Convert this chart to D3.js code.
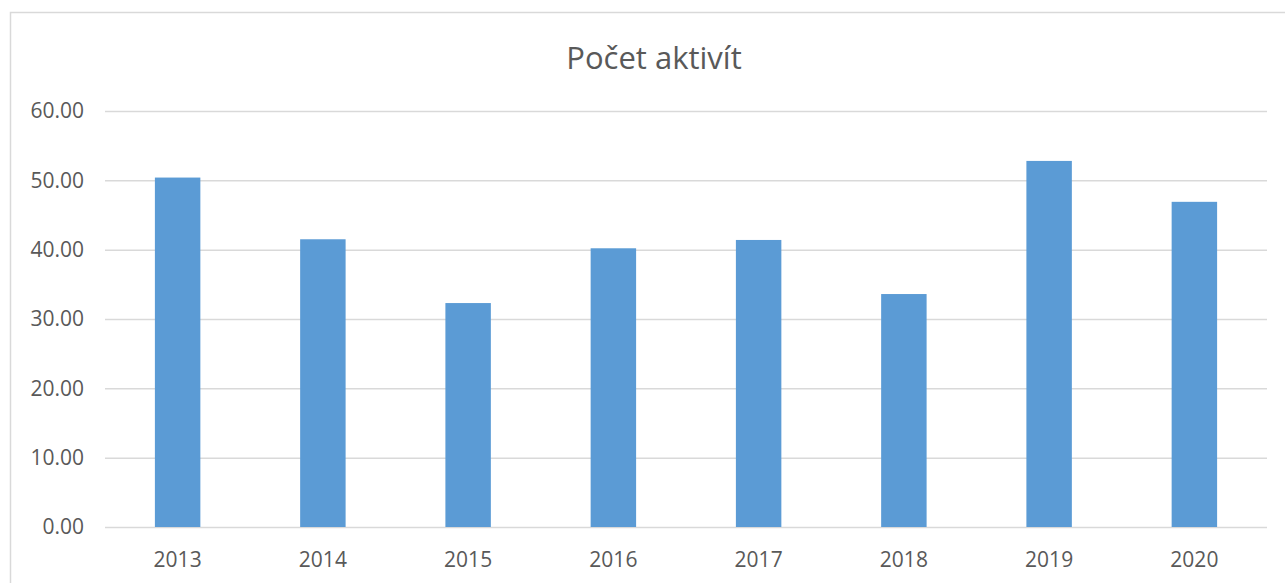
<!DOCTYPE html>
<html>
<head>
<meta charset="utf-8">
<script src="https://cdn.jsdelivr.net/npm/d3@7"></script>
<style>
  body { margin: 0; background: #fff; }
  svg { display: block; font-family: "Open Sans", "Noto Sans", sans-serif; }
</style>
</head>
<body>
<div id="chart"></div>
<script>
// data
const years = ['2013', '2014', '2015', '2016', '2017', '2018', '2019', '2020'];
const values = [50.4, 41.5, 32.3, 40.2, 41.4, 33.6, 52.8, 46.9];
const yTicks = [0, 10, 20, 30, 40, 50, 60];
const title = 'Počet aktivít';

const width = 1285, height = 583;
const margin = { top: 111, right: 18, bottom: 56, left: 105 };

const svg = d3.select('#chart')
    .append('svg')
    .attr('width', width)
    .attr('height', height);

// chart area frame (right and bottom run off the picture)
svg.append('rect')
    .attr('x', 10.5)
    .attr('y', 12.5)
    .attr('width', width + 20)
    .attr('height', height + 20)
    .attr('fill', '#fff')
    .attr('stroke', '#d9d9d9')
    .attr('stroke-width', 1.5);

const x = d3.scaleBand()
    .domain(years)
    .range([margin.left, width - margin.right])
    .paddingInner(0.687)
    .paddingOuter(0.3435);

const y = d3.scaleLinear()
    .domain([0, 60])
    .range([height - margin.bottom, margin.top]);

// gridlines
svg.append('g')
    .attr('transform', 'translate(' + margin.left + ',0)')
    .call(d3.axisLeft(y).tickValues(yTicks).tickSize(-(width - margin.right - margin.left)).tickFormat(''))
    .call(g => g.select('.domain').remove())
    .call(g => g.selectAll('.tick line').attr('stroke', '#d9d9d9').attr('stroke-width', 1.5));

// y labels
svg.append('g')
    .selectAll('text')
    .data(yTicks)
    .join('text')
    .attr('x', 84)
    .attr('y', d => y(d))
    .attr('dy', '0.35em')
    .attr('text-anchor', 'end')
    .attr('fill', '#595959')
    .attr('font-size', 21)
    .text(d => d3.format('.2f')(d));

// bars
svg.append('g')
    .selectAll('rect')
    .data(values)
    .join('rect')
    .attr('x', (d, i) => x(years[i]))
    .attr('y', d => y(d))
    .attr('width', x.bandwidth())
    .attr('height', d => y(0) - y(d))
    .attr('fill', '#5b9bd5');

// x labels
svg.append('g')
    .selectAll('text')
    .data(years)
    .join('text')
    .attr('x', d => x(d) + x.bandwidth() / 2)
    .attr('y', 567)
    .attr('text-anchor', 'middle')
    .attr('fill', '#595959')
    .attr('font-size', 21)
    .text(d => d);

svg.append('text')
    .attr('x', 654)
    .attr('y', 69)
    .attr('text-anchor', 'middle')
    .attr('fill', '#595959')
    .attr('font-size', 31)
    .text(title);
</script>
</body>
</html>
